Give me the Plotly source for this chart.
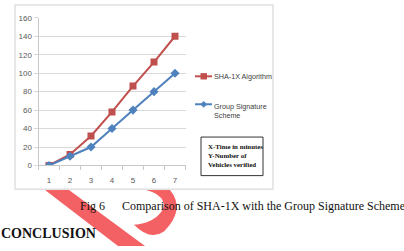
import plotly.graph_objects as go

W, H = 404, 251

categories = ["1", "2", "3", "4", "5", "6", "7"]
sha_values = [0, 12, 32, 58, 86, 112, 140]
group_values = [0, 10, 20, 40, 60, 80, 100]
series_names = ["SHA-1X Algorithm", "Group Signature<br>Scheme"]
y_ticks = [0, 20, 40, 60, 80, 100, 120, 140, 160]
note_lines = ["X-Time in minutes", "Y-Number of", "Vehicles verified"]
caption_fig = "Fig 6"
caption_text = "Comparison of SHA-1X with the Group Signature Scheme"
heading = "CONCLUSION"

RED = "#c0504d"
BLUE = "#4f81bd"
GRID = "#d9d9d9"
LBL = "#595959"
SANS = "Liberation Sans, Arial"
SERIF = "Liberation Serif, Times New Roman, serif"


def px(x):
    return x / W


def py(y):
    return 1 - y / H


fig = go.Figure()
fig.add_trace(go.Scatter(x=categories, y=sha_values, mode="lines+markers",
                         line=dict(color=RED, width=2),
                         marker=dict(symbol="square", size=7, color=RED),
                         name=series_names[0], showlegend=False))
fig.add_trace(go.Scatter(x=categories, y=group_values, mode="lines+markers",
                         line=dict(color=BLUE, width=2),
                         marker=dict(symbol="diamond", size=7, color=BLUE),
                         name=series_names[1], showlegend=False))

shapes = []
# watermark
wm = "rgba(243,88,92,0.95)"
band = f"M {px(45)} {py(193)} L {px(69)} {py(193)} L {px(145)} {py(251)} L {px(118)} {py(251)} Z"
hook = (f"M {px(146)} {py(193)} L {px(170)} {py(193)} "
        f"Q {px(186)} {py(213)} {px(164)} {py(236)} "
        f"Q {px(150)} {py(246)} {px(134)} {py(229)} "
        f"Q {px(154)} {py(228)} {px(163)} {py(213)} "
        f"Q {px(167)} {py(199)} {px(146)} {py(193)} Z")
for p in (band, hook):
    shapes.append(dict(type="path", path=p, xref="paper", yref="paper",
                       fillcolor=wm, line=dict(width=0), layer="below"))

# chart frame
shapes.append(dict(type="rect", xref="paper", yref="paper",
                   x0=px(15), x1=px(273), y0=py(192), y1=py(1),
                   line=dict(color="#d0d0d0", width=1), fillcolor="white",
                   layer="below"))
# note box
shapes.append(dict(type="rect", xref="paper", yref="paper",
                   x0=px(201), x1=px(263), y0=py(178), y1=py(138),
                   line=dict(color="#333333", width=1)))

# legend keys
for yy, col, sym in ((75, RED, "sq"), (104, BLUE, "di")):
    shapes.append(dict(type="line", xref="paper", yref="paper",
                       x0=px(195), x1=px(212), y0=py(yy), y1=py(yy),
                       line=dict(color=col, width=2)))
    if sym == "sq":
        shapes.append(dict(type="rect", xref="paper", yref="paper",
                           x0=px(200.5), x1=px(207), y0=py(yy + 3.3), y1=py(yy - 3.3),
                           fillcolor=col, line=dict(width=0)))
    else:
        d = f"M {px(203.7)} {py(yy - 3.5)} L {px(207)} {py(yy)} L {px(203.7)} {py(yy + 3.5)} L {px(200.4)} {py(yy)} Z"
        shapes.append(dict(type="path", path=d, xref="paper", yref="paper",
                           fillcolor=col, line=dict(width=0)))

ann = []
ann.append(dict(text=series_names[0], x=px(212), y=py(75), xref="paper", yref="paper",
                xanchor="left", yanchor="middle", showarrow=False,
                font=dict(family=SANS, size=7.2, color="#404040")))
ann.append(dict(text=series_names[1], x=px(212), y=py(110.5), xref="paper", yref="paper",
                xanchor="left", yanchor="middle", showarrow=False, align="left",
                font=dict(family=SANS, size=7.2, color="#404040")))
ann.append(dict(text="<br>".join(f"<b>{t}</b>" for t in note_lines),
                x=px(206), y=py(157), xref="paper", yref="paper",
                xanchor="left", yanchor="middle", showarrow=False, align="left",
                font=dict(family=SERIF, size=6.9, color="#111111")))
ann.append(dict(text=caption_fig, x=px(78), y=py(209), xref="paper", yref="paper",
                xanchor="left", yanchor="middle", showarrow=False,
                font=dict(family=SERIF, size=12, color="#111111")))
ann.append(dict(text=caption_text, x=px(120), y=py(209), xref="paper", yref="paper",
                xanchor="left", yanchor="middle", showarrow=False,
                font=dict(family=SERIF, size=12, color="#111111")))
ann.append(dict(text=f"<b>{heading}</b>", x=px(-1), y=py(238), xref="paper", yref="paper",
                xanchor="left", yanchor="middle", showarrow=False,
                font=dict(family=SERIF, size=14, color="#111111")))

fig.update_layout(
    width=W, height=H,
    margin=dict(l=0, r=0, t=0, b=0),
    paper_bgcolor="white", plot_bgcolor="rgba(0,0,0,0)",
    showlegend=False,
    shapes=shapes, annotations=ann,
    xaxis=dict(domain=[px(38.5), px(185.5)], type="category", range=[-0.5, 6.5],
               showgrid=False, showline=True, linecolor="#c8c8c8", linewidth=1,
               ticks="outside", tickson="boundaries", ticklen=4, tickcolor="#c8c8c8",
               tickfont=dict(family=SANS, size=8, color=LBL), ticklabelstandoff=7,
               zeroline=False, fixedrange=True),
    yaxis=dict(domain=[py(167.5), py(14.3)], range=[0, 160], tickvals=y_ticks,
               showgrid=True, gridcolor=GRID, gridwidth=1,
               showline=True, linecolor="#c8c8c8", linewidth=1,
               ticks="outside", ticklen=4, tickcolor=GRID,
               tickfont=dict(family=SANS, size=8, color=LBL),
               zeroline=False, fixedrange=True),
)

fig.write_html("out.html")
